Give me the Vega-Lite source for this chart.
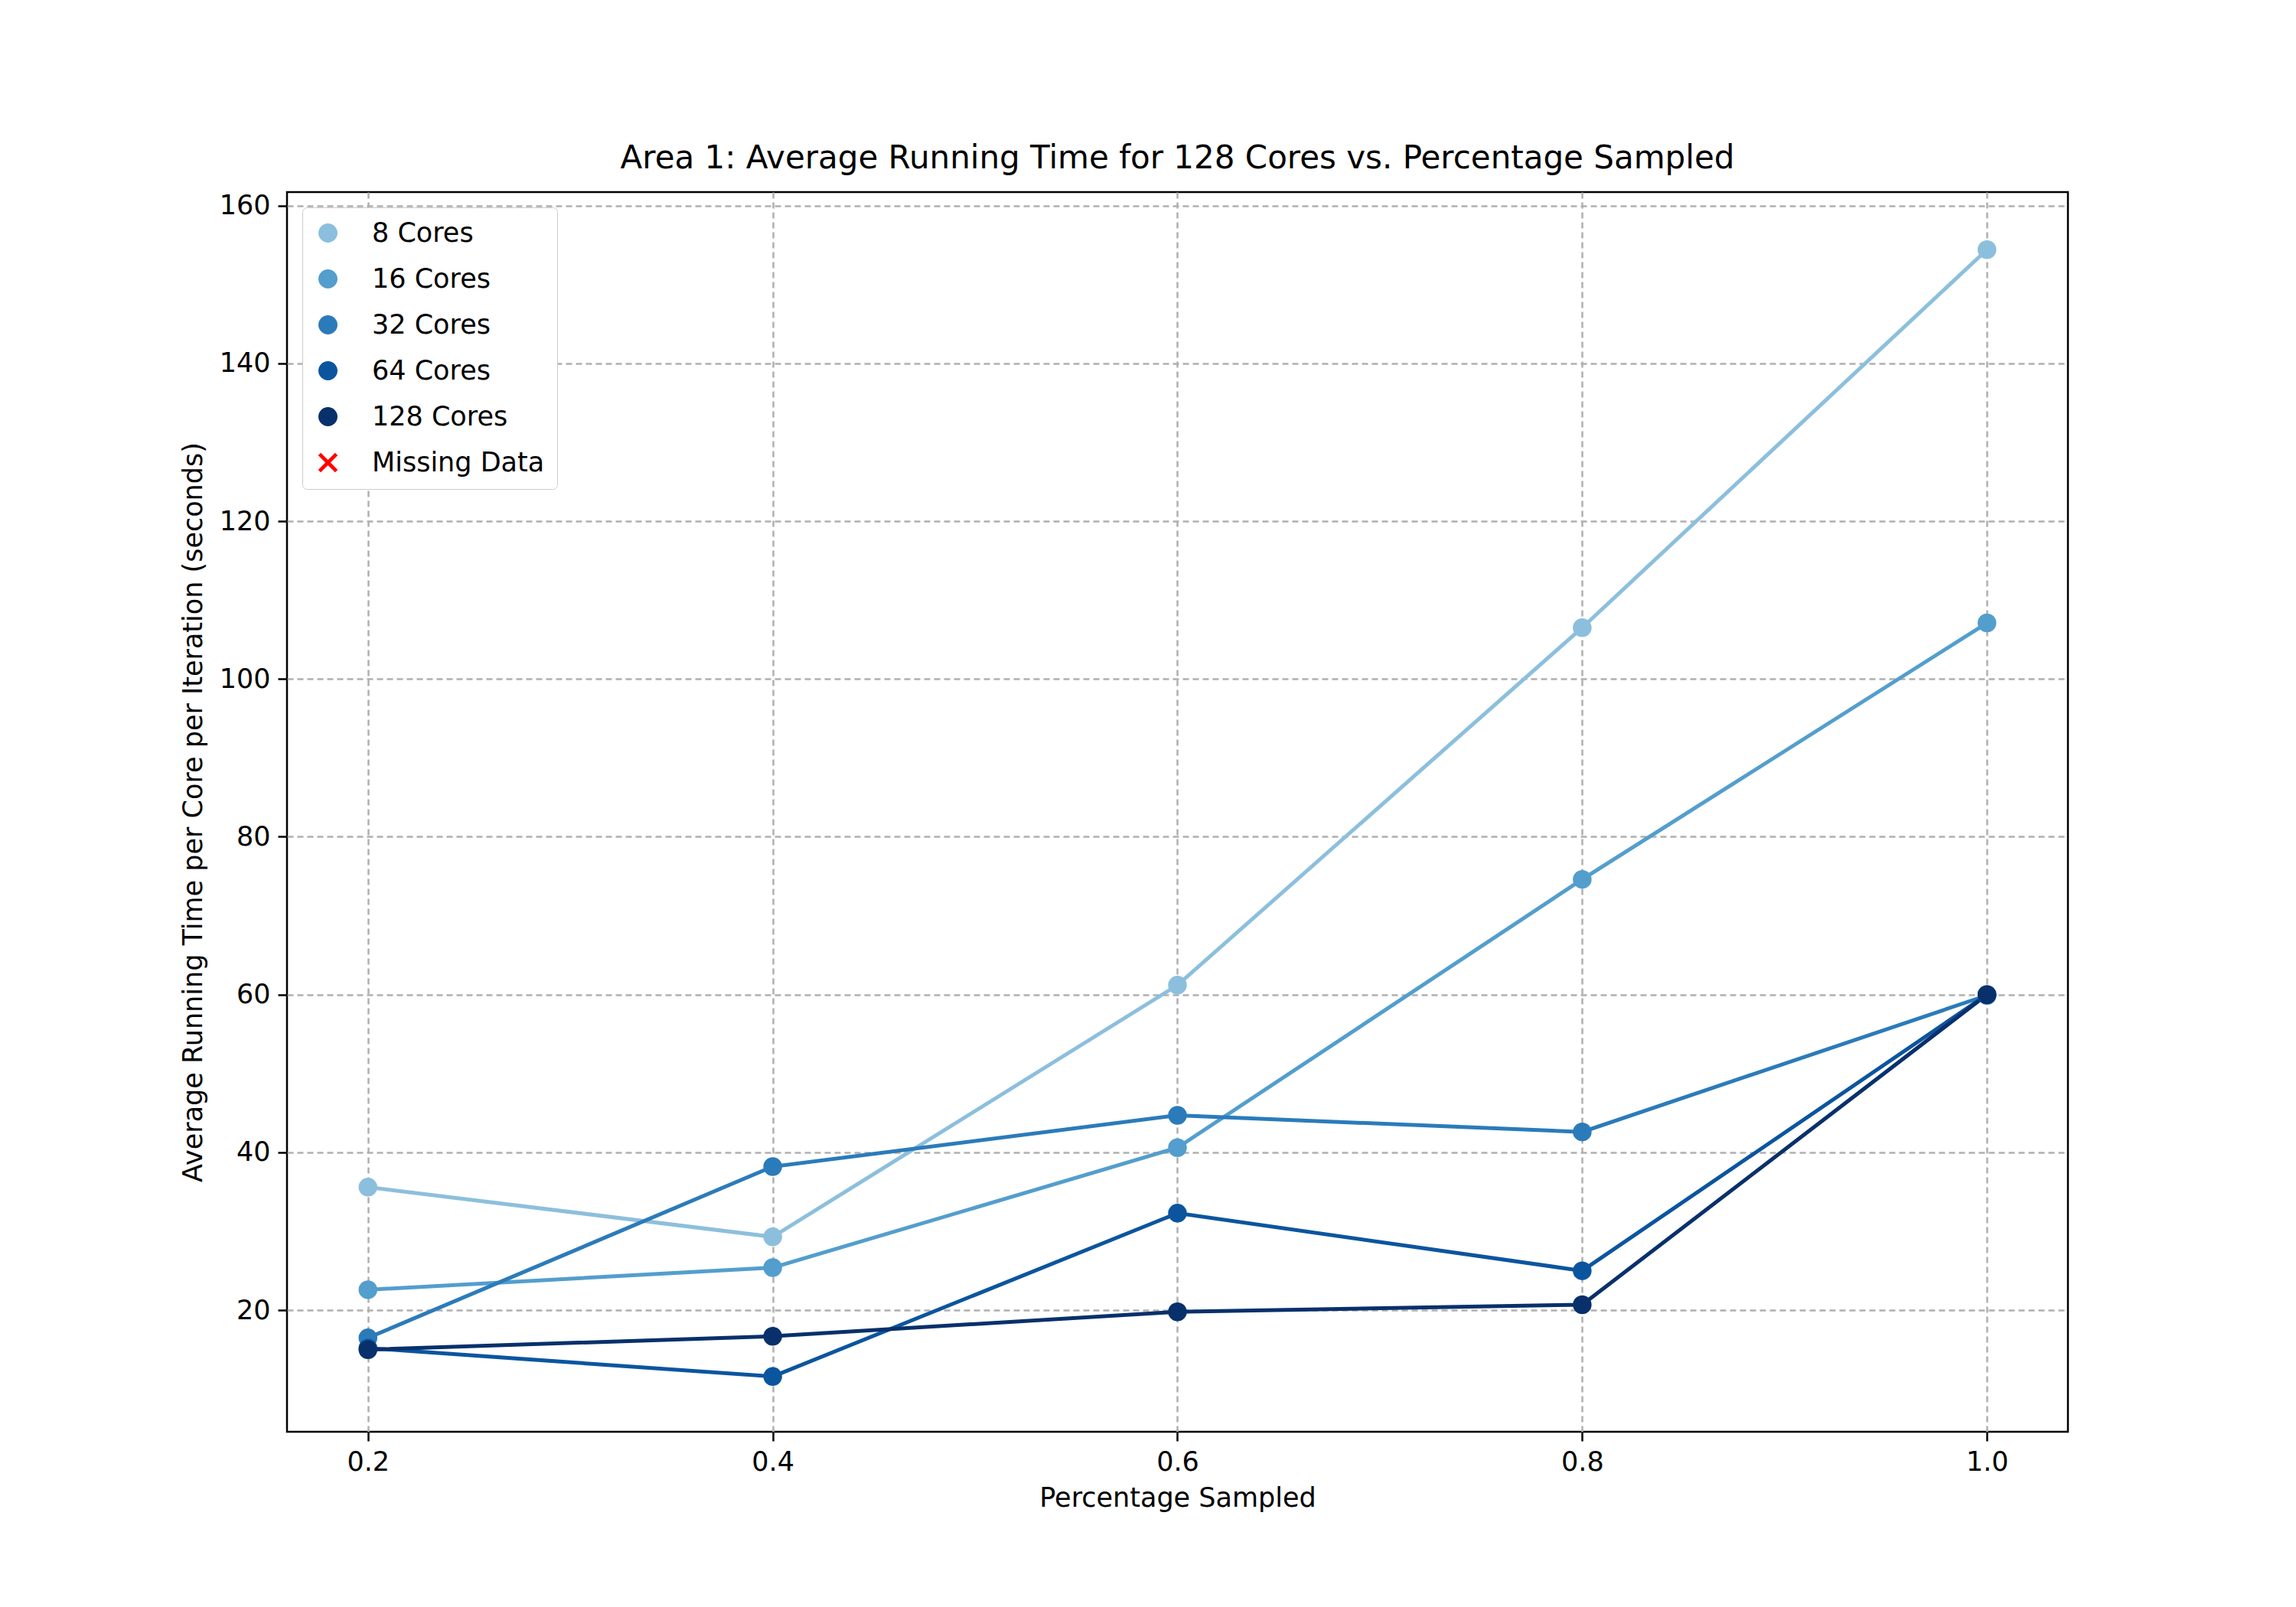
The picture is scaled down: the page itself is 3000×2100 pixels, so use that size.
{
  "$schema": "https://vega.github.io/schema/vega-lite/v6.json",
  "width": 2327,
  "height": 1620,
  "autosize": "none",
  "padding": {"left": 375, "top": 251, "right": 298, "bottom": 229},
  "background": "white",
  "config": {
    "font": "DejaVu Sans",
    "view": {"stroke": "black", "strokeWidth": 2.5},
    "axis": {
      "labelFontSize": 35, "titleFontSize": 35, "titleFontWeight": "normal",
      "labelColor": "black", "titleColor": "black",
      "domain": false, "tickColor": "black", "tickSize": 12, "tickWidth": 2.5,
      "labelPadding": 10,
      "gridColor": "#b0b0b0", "gridDash": [8, 5], "gridWidth": 2.5
    }
  },
  "title": {"text": "Area 1: Average Running Time for 128 Cores vs. Percentage Sampled", "fontSize": 42, "fontWeight": "normal", "color": "black", "offset": 22},
  "data": {"values": [
    {"p": 0.2, "t": 35.6, "s": "8 Cores"}, {"p": 0.4, "t": 29.3, "s": "8 Cores"}, {"p": 0.6, "t": 61.2, "s": "8 Cores"}, {"p": 0.8, "t": 106.5, "s": "8 Cores"}, {"p": 1.0, "t": 154.4, "s": "8 Cores"},
    {"p": 0.2, "t": 22.6, "s": "16 Cores"}, {"p": 0.4, "t": 25.4, "s": "16 Cores"}, {"p": 0.6, "t": 40.6, "s": "16 Cores"}, {"p": 0.8, "t": 74.6, "s": "16 Cores"}, {"p": 1.0, "t": 107.1, "s": "16 Cores"},
    {"p": 0.2, "t": 16.5, "s": "32 Cores"}, {"p": 0.4, "t": 38.2, "s": "32 Cores"}, {"p": 0.6, "t": 44.7, "s": "32 Cores"}, {"p": 0.8, "t": 42.6, "s": "32 Cores"}, {"p": 1.0, "t": 59.9, "s": "32 Cores"},
    {"p": 0.2, "t": 15.2, "s": "64 Cores"}, {"p": 0.4, "t": 11.6, "s": "64 Cores"}, {"p": 0.6, "t": 32.3, "s": "64 Cores"}, {"p": 0.8, "t": 25.0, "s": "64 Cores"}, {"p": 1.0, "t": 60.0, "s": "64 Cores"},
    {"p": 0.2, "t": 15.0, "s": "128 Cores"}, {"p": 0.4, "t": 16.7, "s": "128 Cores"}, {"p": 0.6, "t": 19.8, "s": "128 Cores"}, {"p": 0.8, "t": 20.7, "s": "128 Cores"}, {"p": 1.0, "t": 60.0, "s": "128 Cores"}
  ]},
  "encoding": {
    "x": {"field": "p", "type": "quantitative", "title": "Percentage Sampled",
      "scale": {"domain": [0.16, 1.04], "nice": false, "zero": false},
      "axis": {"values": [0.2, 0.4, 0.6, 0.8, 1.0], "format": ".1f", "titlePadding": 12}},
    "y": {"field": "t", "type": "quantitative", "title": "Average Running Time per Core per Iteration (seconds)",
      "scale": {"domain": [4.6, 161.7], "nice": false, "zero": false},
      "axis": {"values": [20, 40, 60, 80, 100, 120, 140, 160], "titlePadding": 16}},
    "color": {"field": "s", "type": "nominal", "title": null,
      "scale": {"domain": ["8 Cores", "16 Cores", "32 Cores", "64 Cores", "128 Cores", "Missing Data"],
        "range": ["#8cbfdd", "#539ecd", "#2b7bba", "#0b559f", "#08306b", "#ff0000"]},
      "legend": {"orient": "top-left", "offset": 20, "labelFontSize": 35, "symbolSize": 550,
        "rowPadding": 24, "padding": 16, "fillColor": "white", "strokeColor": "#cccccc", "cornerRadius": 6,
        "labelColor": "black", "labelOffset": 40, "labelLimit": 400, "symbolOpacity": 1}},
    "shape": {"field": "s", "type": "nominal", "title": null,
      "scale": {"domain": ["8 Cores", "16 Cores", "32 Cores", "64 Cores", "128 Cores", "Missing Data"],
        "range": ["circle", "circle", "circle", "circle", "circle", "M-1,-0.8L-0.8,-1L0,-0.2L0.8,-1L1,-0.8L0.2,0L1,0.8L0.8,1L0,0.2L-0.8,1L-1,0.8L-0.2,0Z"]}}
  },
  "layer": [
    {"mark": {"type": "line", "strokeWidth": 5}, "encoding": {"shape": {"value": "circle"}}},
    {"mark": {"type": "point", "filled": true, "size": 600, "opacity": 1}}
  ]
}
